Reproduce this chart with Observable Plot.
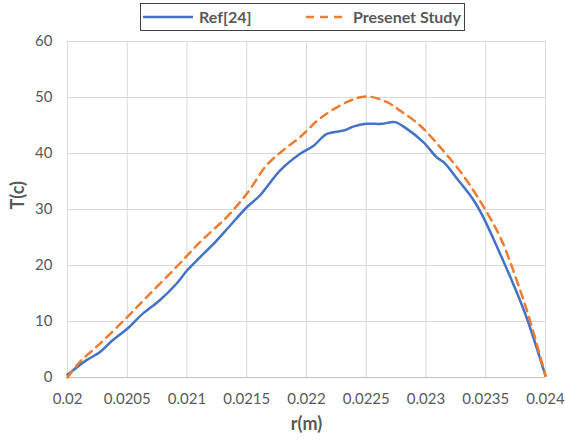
<!DOCTYPE html>
<html>
<head>
<meta charset="utf-8">
<script src="https://cdn.jsdelivr.net/npm/d3@7"></script>
<script src="https://cdn.jsdelivr.net/npm/@observablehq/plot@0.6"></script>
<style>
  body { margin: 0; background: #fff; }
  #wrap { position: relative; width: 565px; height: 440px; font-family: Lato, "Open Sans", sans-serif; }
  #legend { position: absolute; left: 140px; top: 3px; width: 325px; height: 28px; border: 1px solid #404040; box-sizing: border-box; background: #fff; }
  #legend svg { position: absolute; left: 0; top: 0; }
  #legend span { position: absolute; top: 3px; font-size: 16px; font-weight: bold; color: #595959; }
</style>
</head>
<body>
<div id="wrap">
  <div id="chart"></div>
  <div id="legend">
    <svg width="325" height="28">
      <line x1="2" x2="52" y1="13" y2="13" stroke="#4472C4" stroke-width="2.5"></line>
      <line x1="165" x2="203" y1="13" y2="13" stroke="#ED7D31" stroke-width="2.5" stroke-dasharray="8,6"></line>
    </svg>
    <span style="left:58px">Ref[24]</span>
    <span style="left:212px">Presenet Study</span>
  </div>
</div>
<script>
const refR = [0.02, 0.02016, 0.02027, 0.02038, 0.0205, 0.02063, 0.02077, 0.02091, 0.021, 0.02111, 0.02125, 0.02136, 0.0215, 0.02161, 0.02178, 0.02195, 0.02206, 0.02217, 0.02231, 0.02239, 0.0225, 0.02263, 0.02274, 0.02284, 0.02298, 0.02309, 0.02315, 0.02326, 0.0234, 0.02348, 0.02362, 0.02373, 0.02384, 0.024];
const refT = [0.5, 3.1, 4.5, 6.7, 8.7, 11.4, 13.75, 16.7, 19.1, 21.5, 24.5, 27.1, 30.4, 32.5, 37, 40, 41.4, 43.5, 44.1, 44.8, 45.3, 45.3, 45.6, 44.4, 42, 39.3, 38.4, 35.5, 31.6, 28.6, 22.1, 16.7, 10.8, 0.3];
const studyR = [0.02, 0.0201, 0.02027, 0.0205, 0.02066, 0.02091, 0.02111, 0.02133, 0.0215, 0.02167, 0.02183, 0.02195, 0.02211, 0.02234, 0.0225, 0.02267, 0.02278, 0.02295, 0.02312, 0.02329, 0.02345, 0.02362, 0.02376, 0.02387, 0.024];
const studyT = [0, 2.7, 6, 10.8, 14.3, 19.7, 24.2, 28.6, 32.8, 38.0, 41.0, 43.0, 46.2, 49.2, 50.2, 49.2, 47.7, 45, 41.1, 36.7, 31.6, 25.1, 17.3, 10.2, 0.3];
const xTicks = [0.02, 0.0205, 0.021, 0.0215, 0.022, 0.0225, 0.023, 0.0235, 0.024];
const yTicks = [0, 10, 20, 30, 40, 50, 60];

const ref = refR.map((r, i) => ({r, T: refT[i]}));
const study = studyR.map((r, i) => ({r, T: studyT[i]}));
const fmt = d => String(+d.toFixed(4));

const chart = Plot.plot({
  width: 565,
  height: 440,
  marginLeft: 67,
  marginRight: 20,
  marginTop: 41,
  marginBottom: 63,
  style: {fontFamily: "Lato, 'Open Sans', sans-serif", fontSize: "15px", color: "#595959", background: "#fff"},
  x: {domain: [0.02, 0.024], ticks: xTicks, tickFormat: fmt, tickSize: 0, tickPadding: 16, label: null},
  y: {domain: [0, 60], ticks: yTicks, tickSize: 0, tickPadding: 15, label: null},
  marks: [
    Plot.gridX(xTicks, {stroke: "#d9d9d9", strokeOpacity: 1, strokeWidth: 1}),
    Plot.gridY(yTicks, {stroke: "#d9d9d9", strokeOpacity: 1, strokeWidth: 1}),
    Plot.ruleY([0], {stroke: "#bfbfbf", strokeWidth: 1}),
    Plot.axisX({ticks: xTicks, tickFormat: fmt, tickSize: 0, tickPadding: 16, label: null, fill: "#595959"}),
    Plot.axisY({ticks: yTicks, tickSize: 0, tickPadding: 15, label: null, fill: "#595959"}),
    Plot.line(ref, {x: "r", y: "T", stroke: "#4472C4", strokeWidth: 2.5, curve: "catmull-rom"}),
    Plot.line(study, {x: "r", y: "T", stroke: "#ED7D31", strokeWidth: 2.5, strokeDasharray: "8,6", curve: "catmull-rom"}),
    Plot.text(["r(m)"], {frameAnchor: "bottom", dy: 52, fontWeight: "bold", fill: "#595959", fontSize: 18}),
    Plot.text(["T(c)"], {frameAnchor: "left", dx: -49, rotate: -90, fontWeight: "bold", fill: "#595959", fontSize: 18})
  ]
});
document.getElementById("chart").appendChild(chart);
</script>
</body>
</html>
